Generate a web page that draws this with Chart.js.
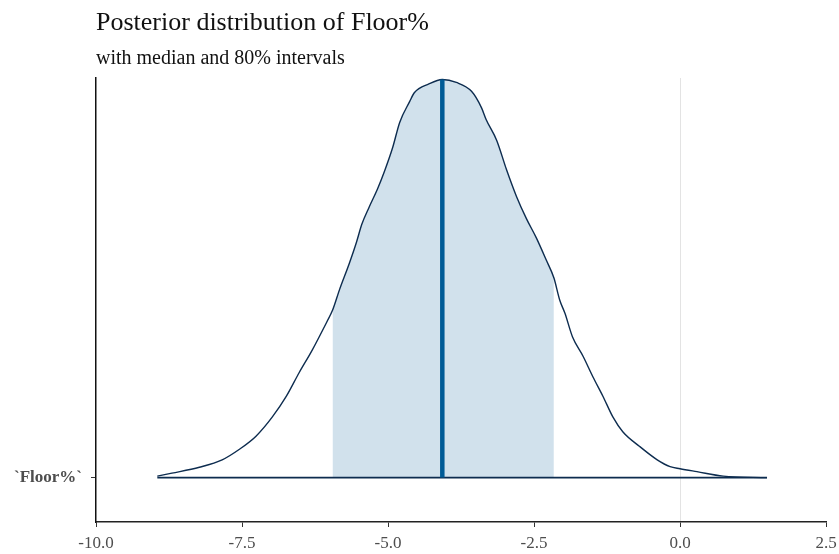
<!DOCTYPE html>
<html>
<head>
<meta charset="utf-8">
<script src="https://cdn.jsdelivr.net/npm/chart.js@4/dist/chart.umd.min.js"></script>
<style>
  body { margin: 0; background: #fff; }
  #wrap { width: 839px; height: 554px; }
</style>
</head>
<body>
<div id="wrap"><canvas id="chart" width="839" height="554"></canvas></div>
<script>
// values
const densityX = [-8.95, -8.70, -8.23, -7.84, -7.55, -7.26, -6.98, -6.74, -6.52, -6.30, -6.05, -5.95,
  -5.83, -5.66, -5.54, -5.45, -5.32, -5.18, -5.06, -4.92, -4.80, -4.63, -4.55, -4.30, -4.07,
  -3.83, -3.57, -3.40, -3.32, -3.14, -2.97, -2.80, -2.63, -2.46, -2.29, -2.16, -2.06, -1.97,
  -1.84, -1.66, -1.49, -1.32, -1.15, -0.98, -0.69, -0.39, -0.17, 0.0, 0.29, 0.74, 1.49];
const densityY = [0.001, 0.003, 0.007, 0.012, 0.019, 0.028, 0.041, 0.055, 0.071, 0.086, 0.105, 0.113,
  0.127, 0.145, 0.159, 0.171, 0.183, 0.195, 0.207, 0.223, 0.240, 0.254, 0.260, 0.266, 0.269,
  0.267, 0.261, 0.250, 0.242, 0.228, 0.208, 0.190, 0.175, 0.162, 0.147, 0.135, 0.120, 0.111,
  0.095, 0.082, 0.068, 0.055, 0.041, 0.031, 0.021, 0.012, 0.0074, 0.006, 0.004, 0.001, 0.000];
const intervalLow = -5.95;
const intervalHigh = -2.16;
const medianX = -4.07;
const medianTop = 0.269;
const xTicks = [-10, -7.5, -5, -2.5, 0, 2.5];
const paramLabel = '`Floor%`';

const curve = densityX.map((x, i) => ({ x: x, y: densityY[i] }));
const shaded = curve.filter(p => p.x >= intervalLow && p.x <= intervalHigh);
const baseline = [{ x: densityX[0], y: 0 }, { x: densityX[densityX.length - 1], y: 0 }];

const serif = '"Liberation Serif", "Times New Roman", serif';

new Chart(document.getElementById('chart').getContext('2d'), {
  type: 'line',
  data: {
    datasets: [
      {
        data: [{ x: medianX, y: 0 }, { x: medianX, y: medianTop }],
        borderColor: '#005b96',
        borderWidth: 4.5,
        pointRadius: 0,
        order: 0
      },
      {
        data: curve,
        borderColor: '#0d2c4f',
        borderWidth: 1.4,
        pointRadius: 0,
        cubicInterpolationMode: 'monotone',
        fill: false,
        order: 1
      },
      {
        data: baseline,
        borderColor: '#0d2c4f',
        borderWidth: 1.6,
        pointRadius: 0,
        order: 2
      },
      {
        data: shaded,
        borderWidth: 0,
        borderColor: 'transparent',
        backgroundColor: '#d1e1ec',
        pointRadius: 0,
        cubicInterpolationMode: 'monotone',
        fill: 'origin',
        order: 3
      }
    ]
  },
  options: {
    responsive: false,
    animation: false,
    layout: { padding: { left: 0, right: 13, top: 0, bottom: 0 } },
    plugins: {
      legend: { display: false },
      tooltip: { enabled: false },
      title: {
        display: true,
        text: 'Posterior distribution of Floor%',
        align: 'start',
        fullSize: false,
        color: '#111111',
        font: { family: serif, size: 26, weight: 'normal', lineHeight: 1.2 },
        padding: { top: 7.4, bottom: 0 }
      },
      subtitle: {
        display: true,
        text: 'with median and 80% intervals',
        align: 'start',
        fullSize: false,
        color: '#111111',
        font: { family: serif, size: 20, weight: 'normal', lineHeight: 1.2 },
        padding: { top: 8.3, bottom: 7.1 }
      }
    },
    scales: {
      x: {
        type: 'linear',
        min: -10,
        max: 2.5,
        afterBuildTicks: function(scale) {
          scale.ticks = xTicks.map(v => ({ value: v }));
        },
        afterFit: function(scale) {
          scale.height = 32;
          scale.paddingLeft = 0;
          scale.paddingRight = 0;
        },
        ticks: {
          color: '#4d4d4d',
          font: { family: serif, size: 17 },
          padding: 6,
          maxRotation: 0,
          callback: function(value) { return value.toFixed(1); }
        },
        grid: {
          color: function(ctx) { return ctx.tick && ctx.tick.value === 0 ? '#e3e3e3' : 'transparent'; },
          lineWidth: 1,
          tickColor: '#333333',
          tickLength: 5
        },
        border: { display: true, color: '#222222', width: 1.5 }
      },
      y: {
        type: 'linear',
        min: -0.03,
        max: 0.27,
        afterBuildTicks: function(scale) {
          scale.ticks = [{ value: 0 }];
        },
        afterFit: function(scale) {
          scale.width = 96;
          scale.paddingTop = 0;
          scale.paddingBottom = 0;
        },
        ticks: {
          color: '#4d4d4d',
          font: { family: serif, size: 17, weight: 'bold' },
          padding: 9,
          callback: function() { return paramLabel; }
        },
        grid: {
          color: 'transparent',
          drawOnChartArea: false,
          tickColor: '#333333',
          tickLength: 5
        },
        border: { display: true, color: '#111111', width: 1.5 }
      }
    }
  }
});
</script>
</body>
</html>
